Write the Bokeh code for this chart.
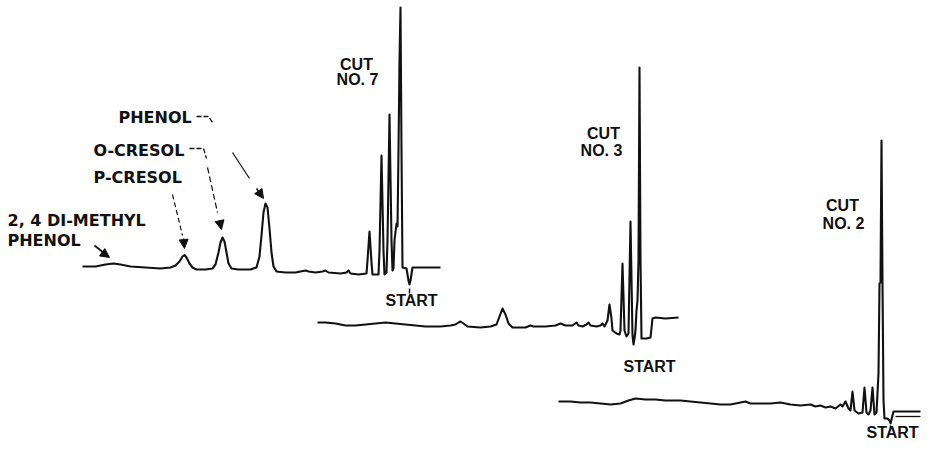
from bokeh.plotting import figure
from bokeh.models import Range1d, Arrow, NormalHead, ColumnDataSource
from bokeh.core.properties import value
from bokeh.embed import file_html
from bokeh.resources import INLINE

# ---- Data: chromatogram traces (chart position, detector deflection; deflection axis runs downward) ----
cut7_x = [82, 95, 105, 113, 120, 130, 145, 160, 170, 175, 179, 182, 184, 186, 189, 192, 196, 205, 212,
          215, 218, 220, 222, 224, 226, 228, 231, 238, 250, 256, 259, 261, 263, 265, 267, 269, 271, 273,
          276, 285, 295, 305, 308, 315, 322, 325, 328, 340, 346, 348, 350, 358, 366, 367, 369, 371, 372,
          378, 379, 381, 383, 384, 386, 387, 389, 391, 392, 393, 394, 396, 397, 398, 399, 400, 401, 402,
          406, 408, 409, 410, 412, 440]
cut7_y = [266, 266, 264, 263, 264, 266, 267, 268, 267, 265, 261, 256, 254.5, 257, 263, 267, 269, 269, 268,
          264, 252, 242, 237, 241, 252, 263, 268, 269, 269, 267, 256, 235, 212, 203, 207, 228, 252, 266,
          271, 272, 272, 270, 271, 272, 271, 270, 272, 273, 272, 270, 273, 274, 273, 260, 231, 262, 274,
          274, 250, 155, 250, 274, 272, 240, 114, 240, 270, 268, 240, 223, 226, 150, 60, 7, 150, 267,
          268, 280, 284, 280, 267, 267]

cut3_x = [317, 325, 335, 345, 355, 365, 375, 385, 395, 405, 415, 425, 440, 450, 455, 458, 460, 463, 467,
          480, 490, 496, 499, 502, 505, 508, 512, 525, 530, 533, 545, 555, 560, 565, 572, 576, 578, 582,
          586, 588, 590, 596, 600, 602, 604, 607, 609, 611, 612, 616, 619, 620, 622, 624, 626, 628, 630,
          632, 633, 634, 635, 636, 637, 638, 639, 640, 641, 646, 650, 652, 655, 665, 678]
cut3_y = [322, 322, 323, 325, 325, 324, 323, 322, 323, 324, 325, 326, 326, 325, 324, 322, 321, 323, 326,
          327, 326, 324, 316, 308, 314, 323, 327, 327, 325, 326, 326, 325, 323, 325, 325, 322, 325, 326,
          324, 322, 325, 326, 325, 323, 326, 320, 304, 318, 330, 333, 334, 330, 263, 330, 336, 333, 221,
          335, 344, 338, 330, 310, 300, 260, 67, 260, 338, 338, 337, 318, 317, 318, 317]

cut2_x = [558, 570, 580, 590, 600, 610, 620, 628, 635, 645, 655, 665, 680, 690, 700, 710, 720, 730, 740,
          745, 750, 760, 770, 780, 790, 800, 810, 815, 820, 825, 830, 835, 840, 842, 845, 848, 850, 852,
          854, 858, 862, 864, 866, 868, 870, 872, 874, 876, 878, 879, 880, 881, 882, 883, 884, 887, 889,
          890, 891, 893, 920]
cut2_y = [401, 401, 402, 402, 403, 404, 403, 400, 398, 399, 399, 400, 400, 401, 402, 403, 404, 404, 402,
          401, 403, 403, 403, 402, 404, 405, 404, 406, 405, 407, 406, 408, 404, 406, 401, 408, 410, 391,
          410, 413, 412, 387, 412, 414, 410, 387, 414, 412, 373, 283, 282, 140, 282, 400, 418, 418, 420,
          423, 419, 411, 411]
cut2_tail_x = [895, 920]
cut2_tail_y = [416, 416]

cut_titles = ["CUT", "CUT", "CUT"]
cut_numbers = ["NO. 7", "NO. 3", "NO. 2"]
peak_names = ["PHENOL", "O-CRESOL", "P-CRESOL", "2, 4 DI-METHYL", "PHENOL"]
start_label = "START"

# ---- Figure ----
p = figure(width=921, height=443, output_backend="svg", toolbar_location=None,
           x_range=Range1d(0, 921), y_range=Range1d(443, 0),
           x_axis_location=None, y_axis_location=None, min_border=0)
p.grid.visible = False
p.outline_line_color = None
p.background_fill_color = "white"
p.border_fill_color = "white"

ink = "#111111"
for xs, ys in [(cut7_x, cut7_y), (cut3_x, cut3_y), (cut2_x, cut2_y)]:
    p.line(xs, ys, line_color=ink, line_width=2.1, line_join="round")
p.line(cut2_tail_x, cut2_tail_y, line_color=ink, line_width=1.3)

# START ticks
p.segment(x0=[409, 890], y0=[288, 425], x1=[409, 890], y1=[293, 428], line_color=ink, line_width=1.5)

# Text labels
bold_font = value("Liberation Sans")
src_cut = ColumnDataSource(dict(x=[356, 603, 842], y=[64, 133, 205], t=cut_titles))
p.text(x="x", y="y", text="t", source=src_cut, text_font=bold_font, text_font_style="bold",
       text_font_size="16px", text_align="center", text_baseline="middle", text_color=ink)
src_no = ColumnDataSource(dict(x=[357, 601, 843], y=[79, 150, 223], t=cut_numbers))
p.text(x="x", y="y", text="t", source=src_no, text_font=bold_font, text_font_style="bold",
       text_font_size="16px", text_align="center", text_baseline="middle", text_color=ink)
src_start = ColumnDataSource(dict(x=[385, 623, 866], y=[300, 366, 432], t=[start_label] * 3))
p.text(x="x", y="y", text="t", source=src_start, text_font=bold_font, text_font_style="bold",
       text_font_size="16px", text_align="left", text_baseline="middle", text_color=ink)

src_names = ColumnDataSource(dict(x=[118, 93, 93, 7, 7], y=[117, 150, 177, 220, 240], t=peak_names))
p.text(x="x", y="y", text="t", source=src_names, text_font=value("DejaVu Sans"), text_font_style="bold",
       text_font_size="16px", text_align="left", text_baseline="middle", text_color=ink)

# Leader lines
p.line([196, 208, 212], [116, 116, 122], line_color=ink, line_width=1.3, line_dash="5 2")
p.line([189, 203, 206], [148, 148, 158], line_color=ink, line_width=1.3, line_dash="5 2")
p.segment(x0=[232], y0=[152], x1=[249], y1=[178], line_color=ink, line_width=1.2)
p.segment(x0=[207], y0=[167], x1=[217], y1=[212], line_color=ink, line_width=1.2, line_dash="6 3")
p.segment(x0=[172], y0=[194], x1=[182], y1=[235], line_color=ink, line_width=1.2, line_dash="5 3")
p.segment(x0=[94], y0=[245], x1=[104], y1=[253], line_color=ink, line_width=1.8)

for (xs, ys, xe, ye) in [(256, 188, 263, 198), (219, 220, 221, 229), (183, 238, 184, 248), (102, 252, 109, 257)]:
    p.add_layout(Arrow(end=NormalHead(size=9, fill_color=ink, line_color=ink, line_width=1),
                       x_start=xs, y_start=ys, x_end=xe, y_end=ye, line_color=ink, line_width=1.5))

open("out.html", "w").write(file_html(p, INLINE))
